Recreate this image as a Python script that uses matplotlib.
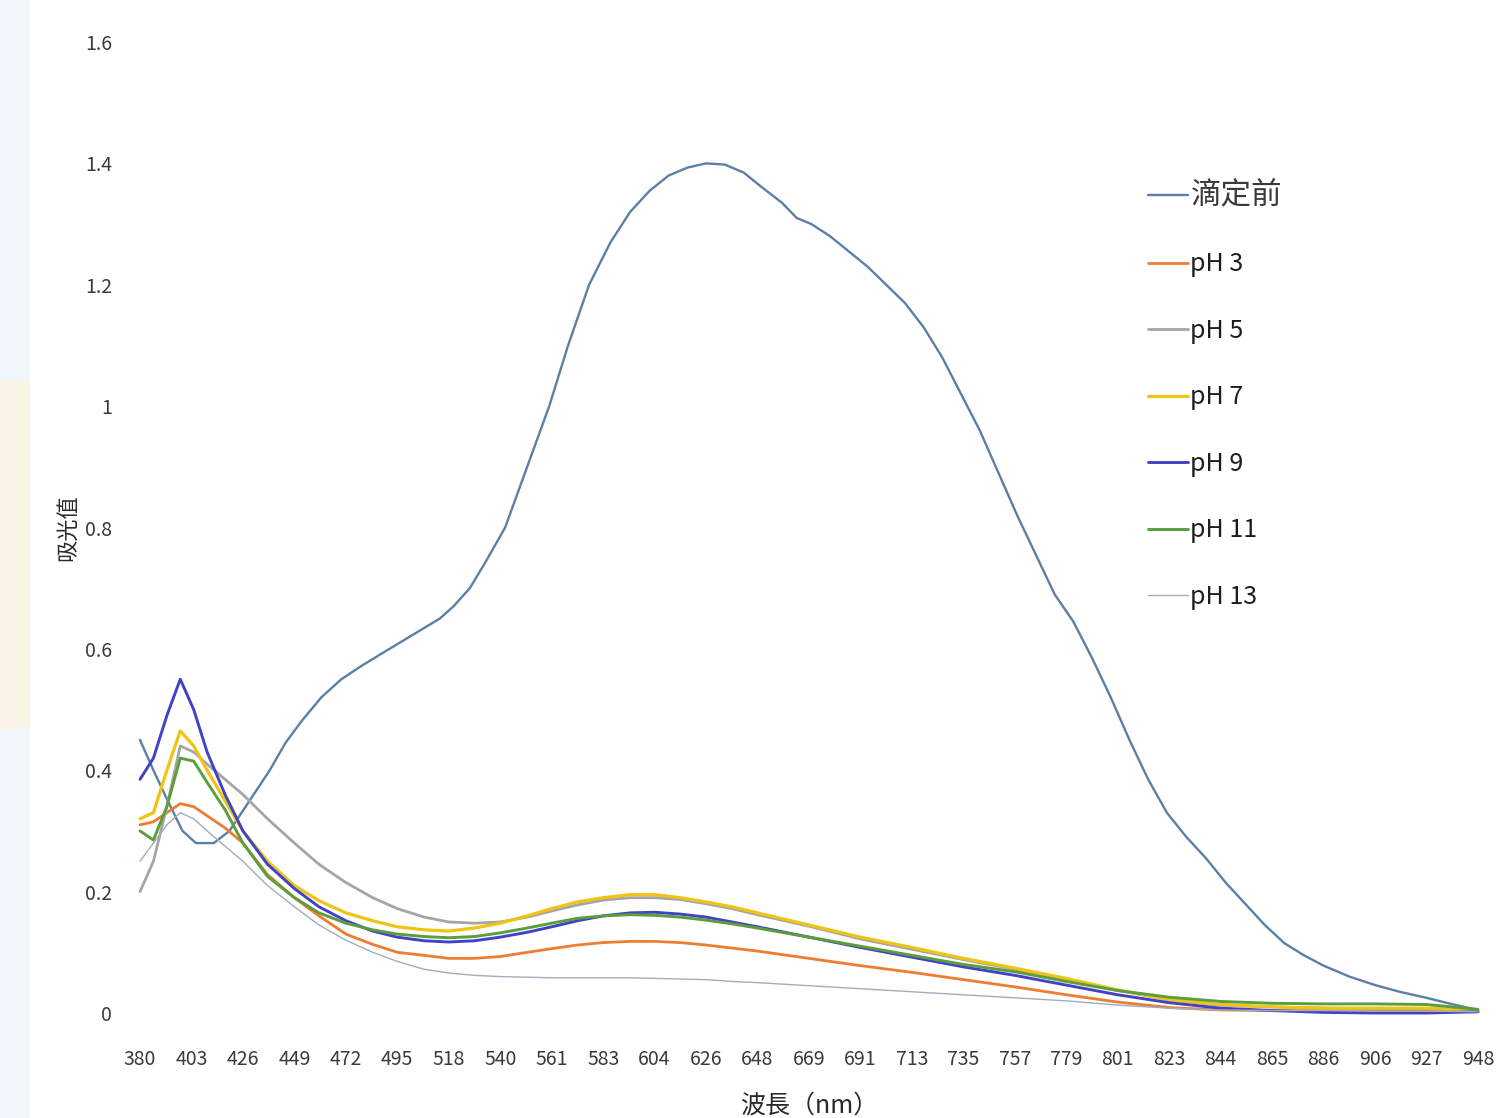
import numpy as np
import matplotlib
matplotlib.use("Agg")
import matplotlib.pyplot as plt
from matplotlib.patches import Rectangle

plt.rcParams['font.family'] = ['Noto Sans CJK SC', 'DejaVu Sans']

# Category axis labels (wavelength, nm) as printed under the axis
tick_wl = [380, 403, 426, 449, 472, 495, 518, 540, 561, 583, 604, 626, 648, 669,
           691, 713, 735, 757, 779, 801, 823, 844, 865, 886, 906, 927, 948]

# Spectrum before titration
wl_before = [380, 386, 393, 399, 405, 413, 420, 429, 438, 445, 452, 461, 470, 479,
             487, 496, 505, 514, 520, 527, 534, 542, 551, 560, 568, 577, 586, 594,
             602, 610, 618, 626, 634, 642, 650, 658, 664, 670, 678, 686, 694, 702,
             710, 718, 726, 734, 742, 750, 758, 766, 774, 782, 790, 798, 806, 814,
             822, 830, 838, 846, 854, 862, 870, 878, 886, 896, 906, 916, 927, 938, 948]
abs_before = [0.45, 0.40, 0.345, 0.30, 0.28, 0.28, 0.30, 0.35, 0.40, 0.445, 0.48, 0.52,
              0.55, 0.572, 0.59, 0.61, 0.63, 0.65, 0.67, 0.70, 0.745, 0.80, 0.90, 1.00,
              1.10, 1.20, 1.27, 1.32, 1.355, 1.38, 1.393, 1.40, 1.398, 1.385, 1.36,
              1.335, 1.31, 1.30, 1.28, 1.255, 1.23, 1.20, 1.17, 1.13, 1.08, 1.02, 0.96,
              0.89, 0.82, 0.755, 0.69, 0.645, 0.585, 0.52, 0.45, 0.385, 0.33, 0.29, 0.255,
              0.215, 0.18, 0.145, 0.115, 0.095, 0.078, 0.06, 0.046, 0.035, 0.025, 0.014,
              0.005]

# Spectra after titration to each pH
wl_ph = [380, 386, 392, 398, 404, 410, 418, 426, 437, 449, 460, 472, 484, 495, 507,
         518, 529, 540, 551, 561, 572, 583, 594, 604, 615, 626, 637, 648, 669, 691,
         713, 735, 757, 779, 801, 823, 844, 865, 886, 906, 927, 948]
abs_ph3 = [0.31, 0.315, 0.33, 0.345, 0.34, 0.325, 0.305, 0.28, 0.228, 0.19, 0.16,
           0.13, 0.113, 0.10, 0.095, 0.09, 0.09, 0.093, 0.10, 0.106, 0.112, 0.116,
           0.118, 0.118, 0.116, 0.112, 0.107, 0.102, 0.09, 0.078, 0.067, 0.055, 0.043,
           0.03, 0.018, 0.009, 0.005, 0.004, 0.004, 0.004, 0.004, 0.002]
abs_ph5 = [0.20, 0.25, 0.34, 0.44, 0.43, 0.41, 0.385, 0.36, 0.32, 0.28, 0.245, 0.215,
           0.19, 0.172, 0.158, 0.15, 0.148, 0.15, 0.158, 0.168, 0.178, 0.186, 0.19,
           0.19, 0.187, 0.18, 0.172, 0.162, 0.143, 0.122, 0.105, 0.088, 0.072, 0.055,
           0.037, 0.022, 0.013, 0.01, 0.008, 0.007, 0.007, 0.004]
abs_ph7 = [0.32, 0.33, 0.40, 0.465, 0.44, 0.40, 0.35, 0.30, 0.25, 0.21, 0.185, 0.165,
           0.152, 0.142, 0.137, 0.135, 0.14, 0.148, 0.16, 0.172, 0.183, 0.19, 0.195,
           0.195, 0.19, 0.183, 0.175, 0.165, 0.145, 0.125, 0.108, 0.09, 0.074, 0.057,
           0.038, 0.022, 0.014, 0.01, 0.008, 0.008, 0.008, 0.004]
abs_ph9 = [0.385, 0.42, 0.49, 0.55, 0.50, 0.43, 0.36, 0.30, 0.245, 0.205, 0.175,
           0.152, 0.135, 0.125, 0.119, 0.117, 0.119, 0.125, 0.133, 0.142, 0.152,
           0.16, 0.165, 0.166, 0.163, 0.158, 0.15, 0.142, 0.125, 0.108, 0.092, 0.076,
           0.062, 0.046, 0.03, 0.017, 0.008, 0.004, 0.001, 0.0, 0.0, 0.002]
abs_ph11 = [0.30, 0.285, 0.34, 0.42, 0.415, 0.38, 0.335, 0.28, 0.225, 0.19, 0.165,
            0.148, 0.137, 0.13, 0.126, 0.124, 0.126, 0.132, 0.14, 0.148, 0.156, 0.16,
            0.162, 0.161, 0.158, 0.153, 0.147, 0.14, 0.125, 0.11, 0.095, 0.08, 0.068,
            0.052, 0.037, 0.026, 0.019, 0.016, 0.015, 0.015, 0.014, 0.006]
abs_ph13 = [0.25, 0.28, 0.31, 0.33, 0.32, 0.30, 0.275, 0.25, 0.21, 0.175, 0.145, 0.12,
            0.10, 0.085, 0.072, 0.066, 0.062, 0.06, 0.059, 0.058, 0.058, 0.058, 0.058,
            0.057, 0.056, 0.055, 0.052, 0.05, 0.045, 0.04, 0.035, 0.03, 0.025, 0.02,
            0.013, 0.008, 0.005, 0.004, 0.004, 0.003, 0.003, 0.002]

series_names = ['滴定前', 'pH 3', 'pH 5', 'pH 7', 'pH 9', 'pH 11', 'pH 13']
y_ticks = [0, 0.2, 0.4, 0.6, 0.8, 1.0, 1.2, 1.4, 1.6]
y_tick_labels = ['0', '0.2', '0.4', '0.6', '0.8', '1', '1.2', '1.4', '1.6']

colors = ['#5C7FA5', '#ED7D31', '#A5A5A8', '#F0C414', '#4242C6', '#5C9E3C', '#9EAEBE']
widths = [1.7, 2.0, 2.0, 2.3, 2.1, 2.1, 1.0]

W, H = 1501, 1118
fig = plt.figure(figsize=(W / 100, H / 100), dpi=100)
fig.patch.set_facecolor('white')

# Pale strip along the left edge of the slide
fig.patches.append(Rectangle((0, 0), 30 / W, 1, transform=fig.transFigure,
                             facecolor='#F0F6FB', edgecolor='none', zorder=0))
fig.patches.append(Rectangle((0, 1 - 730 / H), 30 / W, 350 / H, transform=fig.transFigure,
                             facecolor='#FAF4E6', edgecolor='none', zorder=0))

ax = fig.add_axes([140 / W, (H - 1013) / H, 1338 / W, 971 / H])
ax.set_facecolor('none')

tick_pos = np.arange(len(tick_wl))


def to_pos(wl):
    return np.interp(wl, tick_wl, tick_pos)


all_wl = [wl_before] + [wl_ph] * 6
all_abs = [abs_before, abs_ph3, abs_ph5, abs_ph7, abs_ph9, abs_ph11, abs_ph13]

handles = []
for name, wl, a, c, lw in zip(series_names, all_wl, all_abs, colors, widths):
    ln, = ax.plot(to_pos(wl), a, color=c, lw=lw, label=name, clip_on=False,
                  solid_joinstyle='round', solid_capstyle='round')
    handles.append(ln)

ax.set_xlim(0, len(tick_wl) - 1)
ax.set_ylim(0, 1.6)
ax.set_xticks(tick_pos)
ax.set_xticklabels([str(v) for v in tick_wl])
ax.set_yticks(y_ticks)
ax.set_yticklabels(y_tick_labels)
ax.tick_params(axis='both', length=0, labelsize=14, labelcolor='#3A3A3A')
ax.tick_params(axis='x', pad=26)
ax.tick_params(axis='y', pad=20)
for s in ax.spines.values():
    s.set_visible(False)

ax.set_xlabel('波長（nm）', fontsize=18, color='#2A2A2A', labelpad=16)
ax.set_ylabel('吸光值', fontsize=16, color='#2A2A2A', labelpad=4)

leg = ax.legend(handles=handles, loc='upper left',
                bbox_to_anchor=(1148 / W, 1 - 180 / H), bbox_transform=fig.transFigure,
                frameon=False, fontsize=18, handlelength=1.6, handletextpad=0.1,
                labelspacing=1.62, borderpad=0, borderaxespad=0)
for t in leg.get_texts():
    t.set_color('#1E1E1E')
leg.get_texts()[0].set_fontsize(22)
leg.get_texts()[0].set_color('#3A3A3A')

fig.savefig('out.png', dpi=100, facecolor='white')
